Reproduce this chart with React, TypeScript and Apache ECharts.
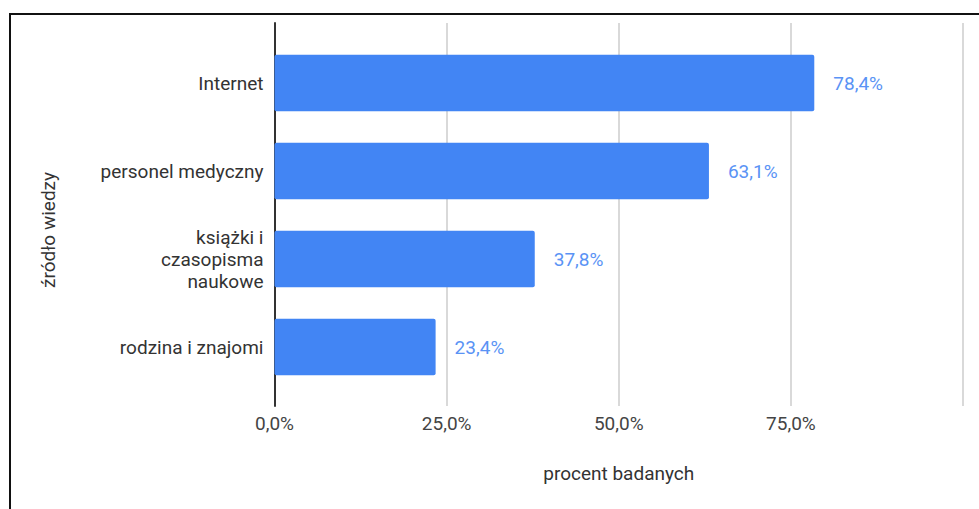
import React, { useEffect, useRef } from "react";
import * as echarts from "echarts";

const categories = [
  "Internet",
  "personel medyczny",
  "książki i\nczasopisma\nnaukowe",
  "rodzina i znajomi",
];
const values = [78.4, 63.1, 37.8, 23.4];
const xMin = 0;
const xMax = 100;
const xInterval = 25;
const xAxisTitle = "procent badanych";
const yAxisTitle = "źródło wiedzy";

const fmt = (v: number) => v.toFixed(1).replace(".", ",") + "%";

export default function App() {
  const ref = useRef<HTMLDivElement>(null);
  useEffect(() => {
    if (!ref.current) return;
    const chart = echarts.init(ref.current, undefined, { renderer: "svg" });
    const font = "Roboto, Arial, sans-serif";
    chart.setOption({
      animation: false,
      backgroundColor: "#ffffff",
      textStyle: { fontFamily: font },
      graphic: [
        {
          type: "rect",
          shape: { x: 10, y: 14, width: 1200, height: 800 },
          style: { fill: "none", stroke: "#111", lineWidth: 2 },
          silent: true,
        },
      ],
      grid: [
        { left: 274.5, right: 16, top: 39, height: 352 },
        { left: 274.5, right: 16, top: 23, height: 383 },
      ],
      xAxis: [
        { gridIndex: 0, type: "value", min: xMin, max: xMax, interval: xInterval, show: false },
        {
          gridIndex: 1,
          type: "value",
          min: xMin,
          max: xMax,
          interval: xInterval,
          axisLine: { show: false },
          axisTick: { show: false },
          splitLine: { show: true, lineStyle: { color: "#d9d9d9", width: 2 } },
          axisLabel: {
            formatter: (v: number) => (v >= xMax ? "" : fmt(v)),
            color: "#444",
            fontSize: 19,
            fontFamily: font,
            margin: 8,
          },
          name: xAxisTitle,
          nameLocation: "middle",
          nameGap: 58,
          nameTextStyle: { color: "#333", fontSize: 19, fontFamily: font },
        },
      ],
      yAxis: [
        {
          gridIndex: 0,
          type: "category",
          data: categories,
          inverse: true,
          axisLine: { show: false },
          axisTick: { show: false },
          splitLine: { show: false },
          axisLabel: {
            color: "#333",
            fontSize: 19,
            fontFamily: font,
            margin: 11,
            lineHeight: 22,
            align: "right",
          },
        },
        {
          gridIndex: 1,
          type: "value",
          min: 0,
          max: 1,
          axisLine: { show: true, lineStyle: { color: "#333", width: 2 } },
          axisTick: { show: false },
          axisLabel: { show: false },
          splitLine: { show: false },
          name: yAxisTitle,
          nameLocation: "middle",
          nameRotate: 90,
          nameGap: 217,
          nameTextStyle: {
            color: "#333",
            fontSize: 19,
            fontFamily: font,
            padding: [0, 31, 0, 0],
          },
        },
      ],
      series: [
        {
          type: "bar",
          xAxisIndex: 0,
          yAxisIndex: 0,
          data: values,
          barCategoryGap: "36%",
          itemStyle: { color: "#4285f4", borderRadius: 2 },
          label: {
            show: true,
            position: "right",
            distance: 19,
            formatter: (p: any) => fmt(p.value),
            color: "#5a93f5",
            fontSize: 19,
            fontFamily: font,
          },
        },
      ],
    });
    return () => chart.dispose();
  }, []);
  return (
    <div
      ref={ref}
      style={{ position: "fixed", left: 0, top: 0, width: 979, height: 509 }}
    />
  );
}
